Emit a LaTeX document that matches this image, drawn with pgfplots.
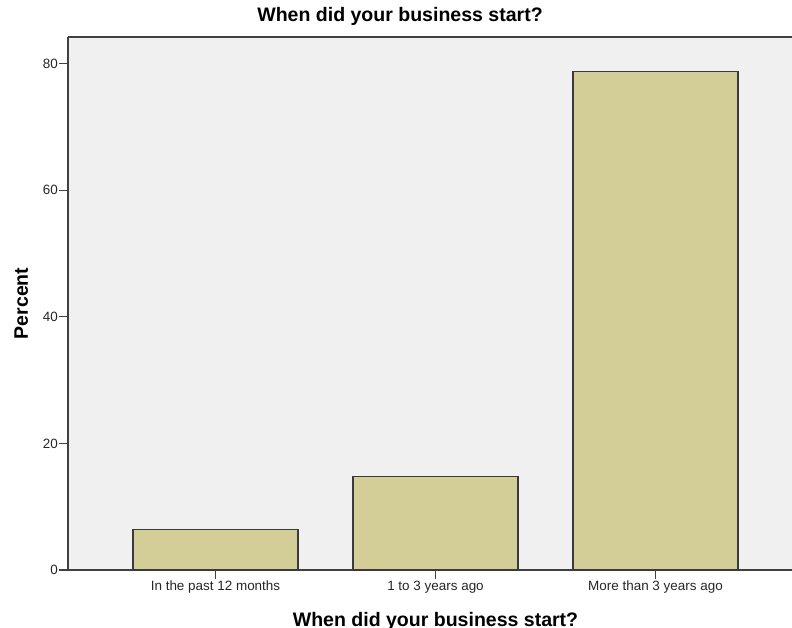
\documentclass[border=0pt]{standalone}
\usepackage{fontspec}
\setmainfont{Liberation Sans}
\usepackage{pgfplots}
\pgfplotsset{compat=1.18}
\definecolor{barfill}{HTML}{D3CE97}
\definecolor{bgcol}{HTML}{F0F0F0}
\definecolor{edgecol}{HTML}{3A3A3A}
\definecolor{axcol}{HTML}{404040}
\begin{document}
\begin{tikzpicture}
\begin{axis}[
  at={(0,0)}, anchor=south west,
  scale only axis,
  width=724bp, height=533bp,
  xmin=-0.6705, xmax=2.6205,
  ymin=0, ymax=84.2,
  axis x line*=bottom, axis y line*=left,
  axis line style={-, draw=axcol, line width=1.3bp},
  axis background/.style={fill=bgcol},
  ytick={0,20,40,60,80},
  xtick={0,1,2},
  xticklabels={In the past 12 months,1 to 3 years ago,More than 3 years ago},
  tick align=outside,
  major tick length=9bp,
  tick style={draw=axcol, line width=1.2bp},
  ticklabel style={font=\fontsize{13.5}{16}\selectfont, text=black!85},
  yticklabel style={anchor=east, inner sep=1bp},
  xticklabel style={anchor=north, inner sep=2bp},
  /pgf/number format/assume math mode=true,
  title={When did your business start?},
  title style={font=\fontsize{19.6}{22}\selectfont\bfseries, at={(axis description cs:0.4586,1.01876)}, anchor=base},
  xlabel={When did your business start?},
  xlabel style={font=\fontsize{19.6}{22}\selectfont\bfseries, at={(axis description cs:0.5076,-0.10507)}, anchor=base},
  ylabel={Percent},
  ylabel style={font=\fontsize{19.6}{22}\selectfont\bfseries, at={(axis description cs:-0.0553,0.5)}, anchor=base, rotate=0},
  clip=false,
]
\addplot[ybar, bar width=0.75, fill=barfill, draw=edgecol, line width=1.3bp] coordinates {(0,6.4) (1,14.8) (2,78.8)};
\draw[axcol, line width=1.3bp] (rel axis cs:0,1) -- (rel axis cs:1,1);
\end{axis}
\pgfresetboundingbox
\path (-68bp,-58bp) rectangle (724bp,570bp);
\end{tikzpicture}
\end{document}
